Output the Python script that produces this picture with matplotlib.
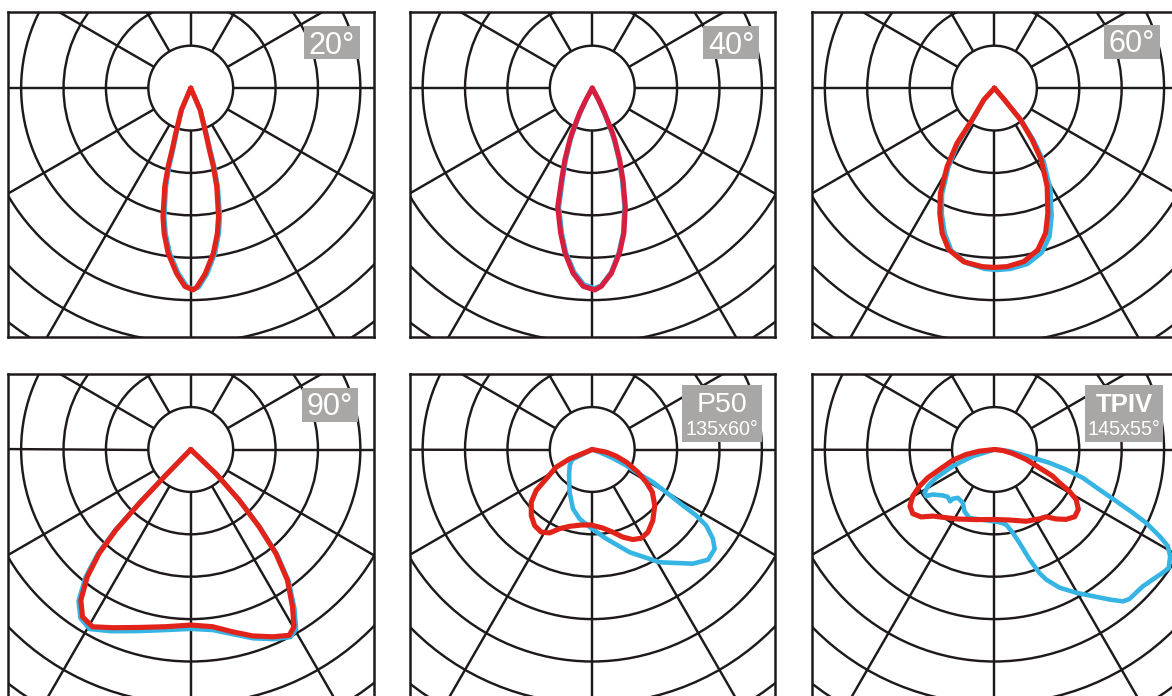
import numpy as np
import matplotlib
matplotlib.use("Agg")
import matplotlib.pyplot as plt
from matplotlib.patches import Circle, Rectangle

plt.rcParams['font.family'] = ['Liberation Sans', 'DejaVu Sans']

# ---------------- data: (angle from nadir in degrees, intensity in ring units) ----------------
# 20 deg beam
red_20_ang = [-24, -23.4, -23.3, -18.4, -16.8, -16.1, -14.8, -12.2, -10.4, -7.8, -4.4, -1.7, 0.6, 1.7, 4.4, 7.8,
              10.4, 12.2, 14.8, 16.1, 16.8, 18.4, 23.3, 23.4, 24]
red_20_r = [0, 0.26, 0.56, 1.12, 1.52, 1.92, 2.40, 3.10, 3.48, 3.93, 4.38, 4.68, 4.76, 4.70, 4.40, 3.93,
            3.48, 3.10, 2.40, 1.92, 1.52, 1.12, 0.56, 0.26, 0]
blue_20_ang = [-23, -22.6, -22.5, -17.6, -16.0, -15.4, -14.1, -11.6, -9.8, -7.2, -3.8, -1.1, 1.0, 2.3, 5.0, 8.4,
               11.0, 12.8, 15.4, 16.7, 17.4, 19.0, 23.9, 24.0, 24.6]
blue_20_r = [0, 0.26, 0.56, 1.12, 1.52, 1.92, 2.40, 3.10, 3.48, 3.93, 4.38, 4.68, 4.75, 4.70, 4.40, 3.93,
             3.48, 3.10, 2.40, 1.92, 1.52, 1.12, 0.56, 0.26, 0]

# 40 deg beam
red_40_ang = [-29, -28.5, -26.9, -24.3, -23.4, -20.9, -18.5, -16.2, -12.3, -9.4, -5.9, -2.6, 0.7, 2.6, 5.9, 9.4,
              12.3, 15.6, 18.5, 20.9, 23.4, 24.3, 26.3, 28.5, 29]
red_40_r = [0, 0.31, 0.66, 1.16, 1.33, 1.81, 2.28, 2.92, 3.50, 3.94, 4.39, 4.68, 4.76, 4.68, 4.39, 3.94,
            3.50, 2.90, 2.28, 1.81, 1.33, 1.16, 0.66, 0.31, 0]
blue_40_ang = [-28, -27.6, -26.1, -23.5, -22.7, -20.2, -17.9, -15.6, -11.8, -9.0, -5.6, -2.4, 0.7, 2.6, 5.8, 9.1,
               12.0, 15.2, 18.0, 20.4, 22.8, 23.7, 25.7, 27.8, 28.3]
blue_40_r = [0, 0.31, 0.66, 1.16, 1.33, 1.81, 2.28, 2.92, 3.50, 3.94, 4.36, 4.64, 4.72, 4.66, 4.37, 3.94,
             3.50, 2.90, 2.28, 1.81, 1.33, 1.16, 0.66, 0.31, 0]

# 60 deg beam
red_60_ang = [-42, -42.4, -35.2, -34.2, -31.1, -27.2, -23.6, -19.8, -15.8, -10, -4, 0, 4.1, 9.6, 15, 19.4,
              23.1, 28.2, 33.1, 36.1, 39.4, 40.6, 42]
red_60_r = [0, 0.37, 0.91, 1.57, 2.16, 2.79, 3.22, 3.64, 3.96, 4.16, 4.22, 4.23, 4.22, 4.15, 3.95, 3.63,
            3.21, 2.63, 2.02, 1.51, 0.97, 0.36, 0]
blue_60_ang = [-41.5, -41.8, -34.6, -33.4, -30.2, -26.3, -22.7, -18.9, -14.8, -9.0, -3.0, 1, 5.1, 10.6, 16, 20.4,
               24.1, 29.0, 33.8, 36.7, 39.9, 41.0, 42.3]
blue_60_r = [0, 0.37, 0.91, 1.57, 2.16, 2.79, 3.22, 3.62, 3.97, 4.18, 4.27, 4.29, 4.28, 4.22, 4.04, 3.73,
             3.30, 2.72, 2.09, 1.56, 1.00, 0.37, 0]

# 90 deg beam
red_90_ang = [-45, -44.2, -43.7, -42.9, -41.4, -39.1, -36.1, -32.9, -29, -23.7, -16.2, -8, 0, 7, 12.9, 18.3,
              23.6, 27.9, 30.2, 32.9, 36.5, 39.3, 41.5, 43.7, 46.2, 46]
red_90_r = [0, 0.85, 1.76, 2.60, 3.27, 3.87, 4.40, 4.70, 4.78, 4.59, 4.37, 4.22, 4.14, 4.21, 4.41, 4.63,
            4.82, 4.96, 4.84, 4.42, 3.83, 3.17, 2.43, 1.65, 0.82, 0]
blue_90_ang = [-45, -44.4, -43.9, -43.1, -41.7, -39.5, -36.5, -33.2, -29.4, -23.7, -16.2, -8, 0, 7, 12.9, 18.3,
               23.6, 28.0, 30.4, 33.1, 36.7, 39.5, 41.7, 43.9, 46.2, 46]
blue_90_r = [0, 0.85, 1.77, 2.62, 3.29, 3.90, 4.45, 4.75, 4.86, 4.68, 4.46, 4.30, 4.23, 4.29, 4.47, 4.69,
             4.88, 5.01, 4.91, 4.48, 3.86, 3.19, 2.44, 1.66, 0.82, 0]

# P50 135x60
red_p50_ang = [-80, -67.6, -63.9, -57.5, -53.8, -49.2, -42.7, -37.2, -31.7, -27.1, -22.4, -16.5, -8.3, -0.8,
               7.7, 14.0, 19.3, 24.3, 28.9, 34.0, 40.5, 48.1, 54.6, 58.8, 63.6, 69.6, 74.5, 79.2, 80]
red_p50_r = [0, 0.58, 0.95, 1.29, 1.64, 1.90, 2.12, 2.25, 2.29, 2.21, 2.02, 1.89, 1.80, 1.78,
             1.87, 2.01, 2.19, 2.33, 2.39, 2.35, 2.20, 1.98, 1.74, 1.49, 1.20, 0.86, 0.59, 0.34, 0]
blue_p50_ang = [-70, -63.4, -54.8, -41.9, -28.0, -18.0, -10.4, -2.0, 8.9, 20.0, 30.9, 41.4, 46.4, 50.9, 53.5,
                56.3, 57.6, 58.3, 60.0, 61.7, 62.7, 64.8, 67.2, 70.0, 70]
blue_p50_r = [0, 0.53, 0.65, 0.82, 1.14, 1.47, 1.66, 1.83, 2.13, 2.58, 3.10, 3.59, 3.77, 3.72, 3.54,
              3.23, 2.90, 2.51, 2.01, 1.62, 1.17, 0.89, 0.53, 0.18, 0]

# TPIV 145x55
red_tp4_ang = [-85, -83.7, -80, -75.6, -70, -67, -63.9, -60.3, -56.1, -51.9, -47.4, -42.8, -35.3, -28.9, -14.7,
               0, 12.0, 23.8, 33.0, 37.5, 41.6, 45.7, 50.1, 54.5, 58.5, 60.9, 62.9, 65.4, 67.8, 72.5, 77.7,
               83.2, 85]
red_tp4_r = [0, 0.36, 0.68, 1.01, 1.38, 1.71, 1.97, 2.22, 2.40, 2.45, 2.35, 2.14, 1.97, 1.87, 1.71,
             1.65, 1.70, 1.85, 1.95, 2.00, 2.19, 2.36, 2.47, 2.43, 2.26, 2.02, 1.72, 1.51, 1.15, 0.78, 0.44,
             0.20, 0]
blue_tp4_ang = [85, 83.7, 77.7, 76.4, 74.4, 72.2, 69.1, 67.0, 65.4, 64.2, 62.3, 60.9, 58.7, 55.8, 53.8, 50.6,
                47.3, 44.7, 42.1, 40.2, 37.5, 33.8, 29.7, 25.2, 21.7, 20.0, 17.7, 15.0, 12.4, 8.8, 3.9, -6.7,
                -20.1, -25.9, -30.7, -37.2, -40.2, -40.6, -44.6, -48.3, -53.9, -55.7, -58.2, -61.2, -64.1,
                -68.2, -72.9, -72.3, -72]
blue_tp4_r = [0, 0.36, 0.93, 1.33, 1.75, 2.19, 2.65, 3.12, 3.59, 3.97, 4.40, 4.68, 4.85, 4.97, 4.92, 4.83,
              4.76, 4.75, 4.75, 4.69, 4.46, 4.16, 3.89, 3.60, 3.30, 3.10, 2.72, 2.28, 2.01, 1.79, 1.72, 1.68,
              1.72, 1.62, 1.46, 1.43, 1.52, 1.61, 1.57, 1.63, 1.80, 1.95, 1.94, 1.79, 1.53,
              1.06, 0.53, 0.21, 0]

panel_labels = ["20°", "40°", "60°", "90°", "P50", "TPIV"]
panel_sublabels = ["", "", "", "", "135x60°", "145x55°"]

curves = [
    (blue_20_ang, blue_20_r, red_20_ang, red_20_r),
    (blue_40_ang, blue_40_r, red_40_ang, red_40_r),
    (blue_60_ang, blue_60_r, red_60_ang, red_60_r),
    (blue_90_ang, blue_90_r, red_90_ang, red_90_r),
    (blue_p50_ang, blue_p50_r, red_p50_ang, red_p50_r),
    (blue_tp4_ang, blue_tp4_r, red_tp4_ang, red_tp4_r),
]

# ---------------- style / layout ----------------
W, H = 1172, 696
U = 42.4                      # pixels per ring
FW, FH = 365.5, 325.0         # frame size in px
CY_OFF = 75.8                 # centre below frame top, px
frames = [(8, 12.3), (409.5, 12.3), (811.7, 12.3), (8, 373.7), (409.5, 373.7), (811.7, 373.7)]
boxes = [(304, 26, 56, 33), (703, 26, 56, 33), (1104, 25, 56, 34),
         (302, 388, 56, 34), (682, 385, 80, 57), (1085, 385, 78, 57)]
GRID = '#1e1a1b'
RED = '#e2231a'
RED40 = '#d61f40'
BLUE = '#36b4e4'
GRAY = '#a8a7a6'
GRID_LW = 1.75
RED_LW = 3.7
BLUE_LW = 3.3

fig = plt.figure(figsize=(W / 100, H / 100), dpi=100)
fig.patch.set_facecolor('white')

for i, (left, top) in enumerate(frames):
    ax = fig.add_axes([left / W, 1 - (top + FH) / H, FW / W, FH / H])
    ax.set_xlim(-FW / 2 / U, FW / 2 / U)
    ax.set_ylim(-(FH - CY_OFF) / U, CY_OFF / U)
    ax.set_xticks([])
    ax.set_yticks([])
    for sp in ax.spines.values():
        sp.set_linewidth(1.8)
        sp.set_color(GRID)
    for k in range(1, 10):
        ax.add_patch(Circle((0, 0), k, fill=False, lw=GRID_LW, ec=GRID, zorder=1))
    for a in range(0, 360, 30):
        th = np.radians(a)
        ax.plot([np.sin(th), 12 * np.sin(th)], [-np.cos(th), -12 * np.cos(th)],
                color=GRID, lw=GRID_LW, zorder=1, solid_capstyle='butt')
    b_ang, b_r, r_ang, r_r = curves[i]
    bt = np.radians(np.array(b_ang))
    br = np.array(b_r)
    ax.plot(br * np.sin(bt), -br * np.cos(bt), color=BLUE, lw=BLUE_LW, zorder=3,
            solid_joinstyle='round', solid_capstyle='round')
    rt = np.radians(np.array(r_ang))
    rr = np.array(r_r)
    ax.plot(rr * np.sin(rt), -rr * np.cos(rt), color=RED40 if i == 1 else RED, lw=RED_LW, zorder=4,
            solid_joinstyle='round', solid_capstyle='round')

    bx, by, bw, bh = boxes[i]
    fig.add_artist(Rectangle((bx / W, 1 - (by + bh) / H), bw / W, bh / H,
                             transform=fig.transFigure, fc=GRAY, ec='none', zorder=5))
    cx = (bx + bw / 2) / W
    if panel_sublabels[i]:
        bold = panel_labels[i] == "TPIV"
        fig.text(cx, 1 - (by + 27) / H, panel_labels[i], color='white',
                 fontsize=18.5 if bold else 20.5, fontweight='bold' if bold else 'normal',
                 ha='center', va='baseline', zorder=6)
        fig.text(cx, 1 - (by + 50) / H, panel_sublabels[i], color='white', fontsize=14.2,
                 ha='center', va='baseline', zorder=6)
    else:
        fig.text(cx, 1 - (by + 27.5) / H, panel_labels[i], color='white', fontsize=22,
                 ha='center', va='baseline', zorder=6)

fig.savefig('out.png', dpi=100, facecolor='white')
